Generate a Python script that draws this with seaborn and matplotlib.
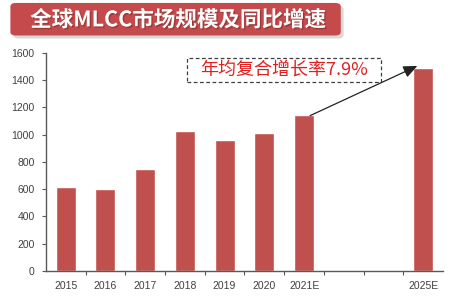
import matplotlib
matplotlib.use("Agg")
import matplotlib.pyplot as plt
import seaborn as sns
import pandas as pd
from matplotlib.patches import FancyBboxPatch, Rectangle
import matplotlib.patheffects as pe

categories = ["2015", "2016", "2017", "2018", "2019", "2020", "2021E", " ", "  ", "2025E"]
values = [615, 600, 750, 1030, 963, 1015, 1145, 0, 0, 1490]
title = "全球MLCC市场规模及同比增速"
note = "年均复合增长率7.9%"
yticks = [0, 200, 400, 600, 800, 1000, 1200, 1400, 1600]

sns.set_theme(style="white")
plt.rcParams['font.family'] = ['Noto Sans CJK SC', 'DejaVu Sans']

df = pd.DataFrame({"year": categories, "value": values})

fig = plt.figure(figsize=(4.72, 2.96), dpi=100)
ax = fig.add_axes([0.097, 0.0845, 0.842, 0.7365])

sns.barplot(data=df, x="year", y="value", color="#C0504D", saturation=1,
            width=0.5, ax=ax)

ax.set_ylim(0, 1600)
ax.set_xlim(-0.5, len(categories) - 0.5)
ax.set_yticks(yticks)
ax.set_xlabel("")
ax.set_ylabel("")
for s in ["top", "right"]:
    ax.spines[s].set_visible(False)
for s in ["left", "bottom"]:
    ax.spines[s].set_color("#595959")
    ax.spines[s].set_linewidth(1.0)

ax.tick_params(axis="y", which="major", direction="out", length=3, width=0.8,
               color="#595959", labelsize=7.5, labelcolor="#404040", pad=5, left=True)
ax.tick_params(axis="x", which="major", length=0, labelsize=7.5, labelcolor="#404040", pad=7)
ax.set_xticks([i + 0.5 for i in range(len(categories) - 1)], minor=True)
ax.tick_params(axis="x", which="minor", direction="out", length=3, width=0.8,
               color="#595959", bottom=True)
for lab in ax.get_xticklabels() + ax.get_yticklabels():
    lab.set_fontfamily(["Liberation Sans", "DejaVu Sans"])

# annotation
ax.text(0.6, 0.922, note, transform=ax.transAxes, ha="center", va="center",
        fontsize=13, color="#E0201F")
ax.add_patch(Rectangle((0.355, 0.867), 0.489, 0.11, transform=ax.transAxes,
                       fill=False, ec="#404040", ls=(0, (3, 2)), lw=0.9, clip_on=False))
ax.annotate("", xy=(8.85, 1505), xytext=(6.15, 1140),
            arrowprops=dict(arrowstyle="-|>,head_length=0.7,head_width=0.3",
                            color="#222222", lw=0.9, shrinkA=0, shrinkB=0))

# title banner
shadow = FancyBboxPatch((0.028, 0.87), 0.70, 0.11,
                        boxstyle="round,pad=0,rounding_size=0.012",
                        transform=fig.transFigure, fc="#D9D9D9", ec="none", zorder=0)
fig.patches.append(shadow)
banner = FancyBboxPatch((0.022, 0.88), 0.70, 0.11,
                        boxstyle="round,pad=0,rounding_size=0.012",
                        transform=fig.transFigure, fc="#C44A4C", ec="none", zorder=1)
fig.patches.append(banner)
fig.text(0.377, 0.933, title, ha="center", va="center", fontsize=15.5,
         fontweight="bold", color="white", zorder=3,
         path_effects=[pe.withSimplePatchShadow(offset=(1, -1), shadow_rgbFace="#7a2a2a", alpha=0.5)])

fig.savefig("out.png", dpi=100)
